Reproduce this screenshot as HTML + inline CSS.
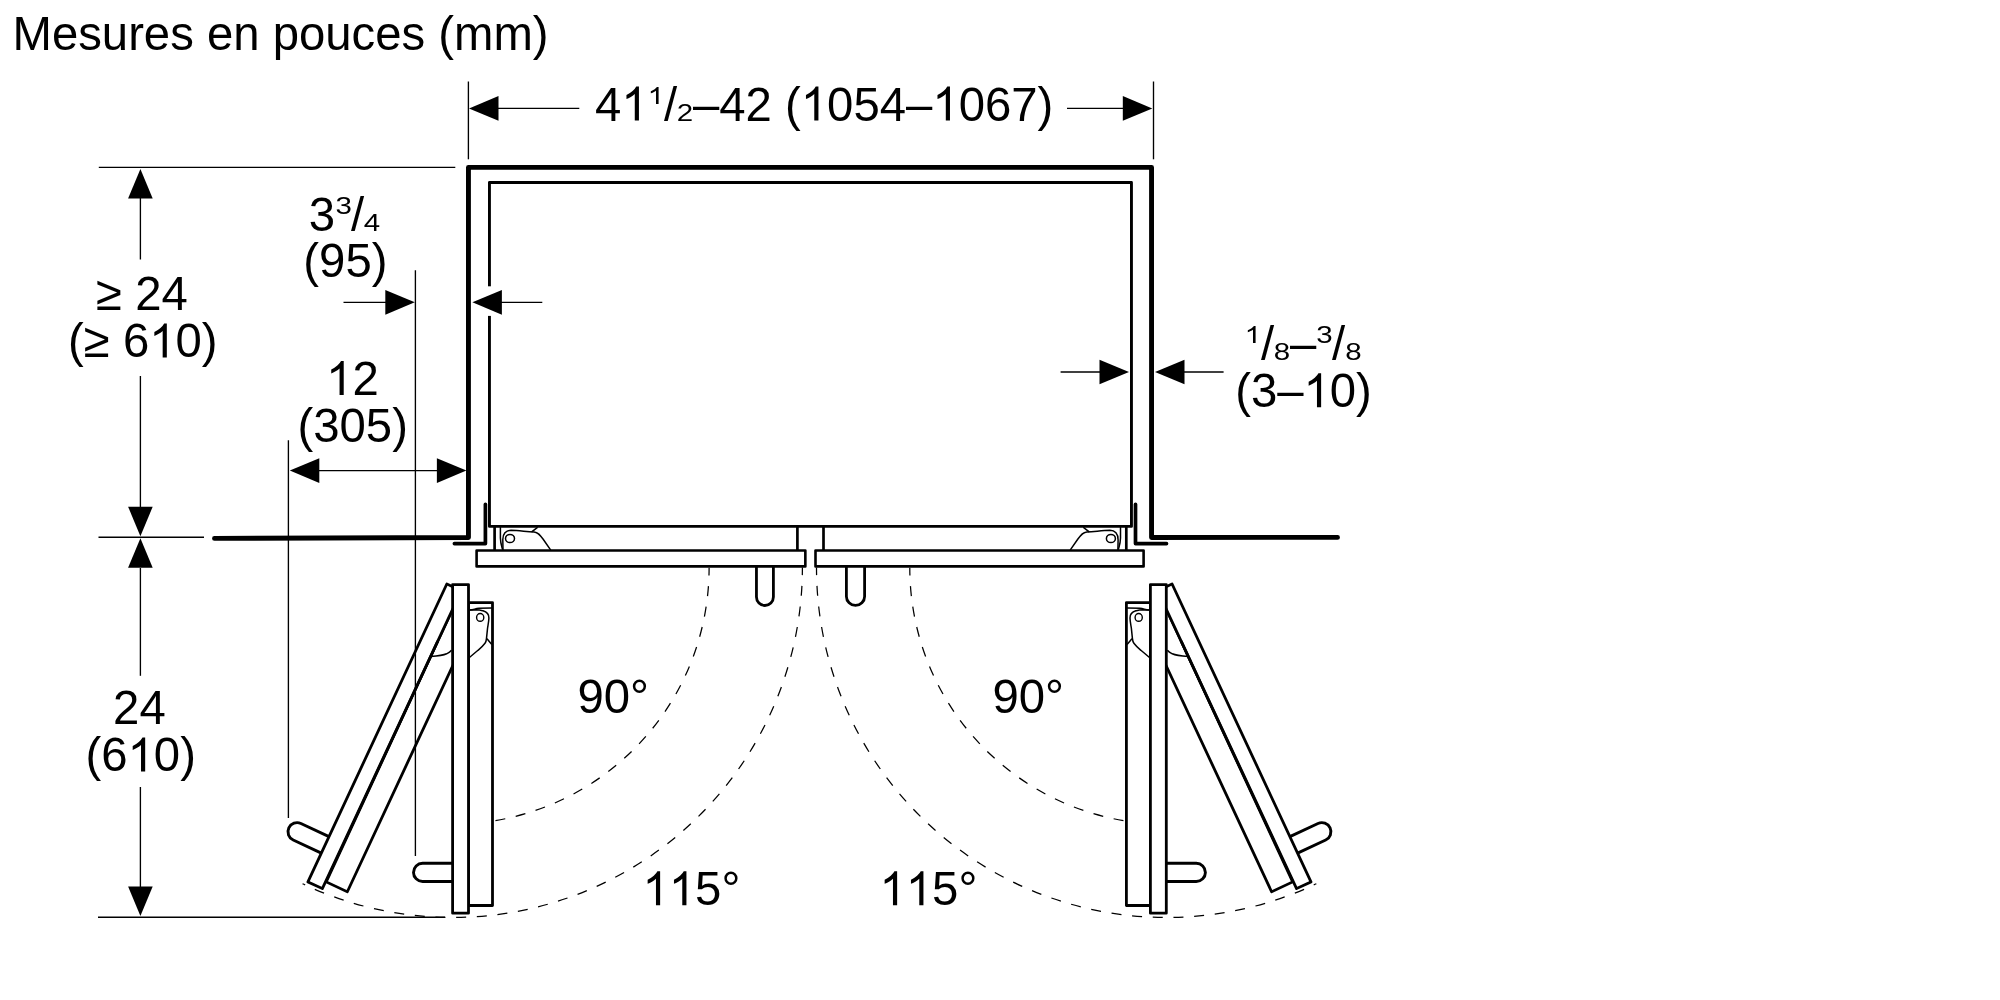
<!DOCTYPE html><html><head><meta charset="utf-8"><title>Mesures</title><style>html,body{margin:0;padding:0;background:#fff}svg{display:block}text{font-family:"Liberation Sans",sans-serif;fill:#000}</style></head><body>
<svg width="2000" height="1000" viewBox="0 0 2000 1000" style="will-change:transform">
<rect width="2000" height="1000" fill="#fff"/>
<g fill="none" stroke="#000" stroke-width="1.25" stroke-dasharray="10 10.7"><path d="M709.10,567.80 A256.4,256.4 0 0 1 452.70,824.20" stroke-dashoffset="2.3"/><path d="M802.40,567.50 A350.0,350.0 0 0 1 302.55,883.80" stroke-dashoffset="2.3"/></g>
<g transform="translate(1618.90,0) scale(-1,1)"><g fill="none" stroke="#000" stroke-width="1.25" stroke-dasharray="10 10.7"><path d="M709.10,567.80 A256.4,256.4 0 0 1 452.70,824.20" stroke-dashoffset="2.3"/><path d="M802.40,567.50 A350.0,350.0 0 0 1 302.55,883.80" stroke-dashoffset="2.3"/></g></g>
<path d="M756.45,566.4 V597.03 A8.475,8.475 0 0 0 773.4,597.03 V566.4" fill="#fff" stroke="#000" stroke-width="2.8"/>
<path d="M846.4,566.4 V596.40 A9.100,9.100 0 0 0 864.6,596.40 V566.4" fill="#fff" stroke="#000" stroke-width="2.8"/>
<g fill="#fff" stroke="#000" stroke-width="2.6" stroke-linejoin="round">
<rect x="476.6" y="550.5" width="328.75" height="15.9"/>
<rect x="815.5" y="550.5" width="328.1" height="15.9"/>
</g>
<g stroke="#000" stroke-width="2.7"><line x1="494.6" y1="526.4" x2="494.6" y2="550.5"/><line x1="797.4" y1="526.4" x2="797.4" y2="550.5"/></g><g fill="none" stroke="#000" stroke-width="1.5" stroke-linecap="round" stroke-linejoin="round"><path d="M503,549.8 L502.8,540 C502.6,534 506,530.2 511,530.2 C519,530.4 526,531.6 534,532 C538,532.4 540,535 543,539 L550.4,549.6"/><path d="M532,531.6 L537.2,527.6"/><path d="M500.4,527.5 L500.4,538 C500.5,543 501.6,546 502.4,549"/><ellipse cx="510" cy="538.5" rx="4.5" ry="4.1" stroke-width="1.5"/></g><path d="M485.4,504.3 V543.55 H454.4" fill="none" stroke="#000" stroke-width="3.7" stroke-linecap="round" stroke-linejoin="round"/>
<g transform="translate(1620.90,0) scale(-1,1)"><g stroke="#000" stroke-width="2.7"><line x1="494.6" y1="526.4" x2="494.6" y2="550.5"/><line x1="797.4" y1="526.4" x2="797.4" y2="550.5"/></g><g fill="none" stroke="#000" stroke-width="1.5" stroke-linecap="round" stroke-linejoin="round"><path d="M503,549.8 L502.8,540 C502.6,534 506,530.2 511,530.2 C519,530.4 526,531.6 534,532 C538,532.4 540,535 543,539 L550.4,549.6"/><path d="M532,531.6 L537.2,527.6"/><path d="M500.4,527.5 L500.4,538 C500.5,543 501.6,546 502.4,549"/><ellipse cx="510" cy="538.5" rx="4.5" ry="4.1" stroke-width="1.5"/></g><path d="M485.4,504.3 V543.55 H454.4" fill="none" stroke="#000" stroke-width="3.7" stroke-linecap="round" stroke-linejoin="round"/></g>
<g transform="translate(-0.3,0) rotate(25 451.1 571.9)"><g fill="#fff" stroke="#000" stroke-width="2.8" stroke-linejoin="round"><path d="M452.6,863.3 H421.60 A9.1,9.1 0 0 0 421.60,881.5 H452.6" stroke-width="2.9"/><rect x="468.5" y="602.6" width="24" height="302.9"/><rect x="452.6" y="584.55" width="15.9" height="328.65"/><line x1="468.5" y1="640" x2="469.2" y2="905" stroke-width="2.8"/></g></g><path d="M430.5,656.6 C438,656 444,655 446.6,653.8 C449,652.6 450.5,651.5 451.5,650.3" fill="none" stroke="#000" stroke-width="1.5"/><g fill="#fff" stroke="#000" stroke-width="2.8" stroke-linejoin="round"><path d="M452.6,863.3 H422.60 A9.1,9.1 0 0 0 422.60,881.5 H452.6" stroke-width="2.9"/><rect x="468.5" y="602.6" width="24" height="302.9"/><rect x="452.6" y="584.55" width="15.9" height="328.65"/></g><g fill="none" stroke="#000" stroke-width="1.5" stroke-linecap="round" stroke-linejoin="round"><path d="M469.7,610 C474,610 475,608.4 479,608.3 L491.4,608"/><path d="M469.7,610 L476,609.8 C480,609.8 481,610.2 483,610.8 C487,612 489,614.5 488.9,618 C488.8,622 487.8,626 487.5,628.6 L486.5,638.4 C486.3,640.5 486,642 485,643.3 C483,646 480.5,648.3 478,650.3 L469.7,657.3"/><path d="M487.2,639 L491.4,644"/><ellipse cx="480.2" cy="617.4" rx="3.6" ry="3.9" stroke-width="1.4"/></g>
<g transform="translate(1618.90,0) scale(-1,1)"><g transform="translate(-0.3,0) rotate(25 451.1 571.9)"><g fill="#fff" stroke="#000" stroke-width="2.8" stroke-linejoin="round"><path d="M452.6,863.3 H421.60 A9.1,9.1 0 0 0 421.60,881.5 H452.6" stroke-width="2.9"/><rect x="468.5" y="602.6" width="24" height="302.9"/><rect x="452.6" y="584.55" width="15.9" height="328.65"/><line x1="468.5" y1="640" x2="469.2" y2="905" stroke-width="2.8"/></g></g><path d="M430.5,656.6 C438,656 444,655 446.6,653.8 C449,652.6 450.5,651.5 451.5,650.3" fill="none" stroke="#000" stroke-width="1.5"/><g fill="#fff" stroke="#000" stroke-width="2.8" stroke-linejoin="round"><path d="M452.6,863.3 H422.60 A9.1,9.1 0 0 0 422.60,881.5 H452.6" stroke-width="2.9"/><rect x="468.5" y="602.6" width="24" height="302.9"/><rect x="452.6" y="584.55" width="15.9" height="328.65"/></g><g fill="none" stroke="#000" stroke-width="1.5" stroke-linecap="round" stroke-linejoin="round"><path d="M469.7,610 C474,610 475,608.4 479,608.3 L491.4,608"/><path d="M469.7,610 L476,609.8 C480,609.8 481,610.2 483,610.8 C487,612 489,614.5 488.9,618 C488.8,622 487.8,626 487.5,628.6 L486.5,638.4 C486.3,640.5 486,642 485,643.3 C483,646 480.5,648.3 478,650.3 L469.7,657.3"/><path d="M487.2,639 L491.4,644"/><ellipse cx="480.2" cy="617.4" rx="3.6" ry="3.9" stroke-width="1.4"/></g></g>
<path d="M214.5,538.4 L468.45,537.45 V167.4 H1151.55 V537.45 L1337.5,537.4" fill="none" stroke="#000" stroke-width="4.9" stroke-linecap="round" stroke-linejoin="round"/>
<rect x="489.45" y="182.55" width="642" height="343.85" fill="none" stroke="#000" stroke-width="2.9" stroke-linejoin="round"/>
<rect x="487" y="286.3" width="5" height="29.6" fill="#fff"/>
<g stroke="#000" stroke-width="1.35" fill="none">
<line x1="468.4" y1="81.5" x2="468.4" y2="159.3"/><line x1="1153.5" y1="81.5" x2="1153.5" y2="159.3"/>
<line x1="497" y1="108.4" x2="579.3" y2="108.4"/><line x1="1067" y1="108.4" x2="1124" y2="108.4"/>
<line x1="98.8" y1="167.3" x2="455.3" y2="167.3"/>
<line x1="98.5" y1="537.2" x2="204" y2="537.2"/>
<line x1="98" y1="917.2" x2="445" y2="917.2"/>
<line x1="140.4" y1="197" x2="140.4" y2="259.5"/><line x1="140.4" y1="376" x2="140.4" y2="508"/>
<line x1="140.4" y1="568" x2="140.4" y2="675.8"/><line x1="140.4" y1="787" x2="140.4" y2="888"/>
<line x1="415.4" y1="270.2" x2="415.4" y2="856"/>
<line x1="343.5" y1="302.35" x2="386" y2="302.35"/><line x1="501" y1="302.35" x2="542.3" y2="302.35"/>
<line x1="288.4" y1="440.3" x2="288.4" y2="818"/>
<line x1="318" y1="470.6" x2="438" y2="470.6"/>
<line x1="1060.6" y1="372" x2="1100" y2="372"/><line x1="1184" y1="372" x2="1223.6" y2="372"/>
</g>
<g fill="#000">
<polygon points="469.00,108.40 498.50,96.10 498.50,120.70"/>
<polygon points="1152.30,108.40 1122.80,96.10 1122.80,120.70"/>
<polygon points="140.40,169.00 128.10,198.50 152.70,198.50"/>
<polygon points="140.40,536.20 128.10,506.70 152.70,506.70"/>
<polygon points="140.40,538.20 128.10,567.70 152.70,567.70"/>
<polygon points="140.40,916.00 128.10,886.50 152.70,886.50"/>
<polygon points="414.80,302.35 385.30,290.05 385.30,314.65"/>
<polygon points="472.40,302.35 501.90,290.05 501.90,314.65"/>
<polygon points="289.80,470.60 319.30,458.30 319.30,482.90"/>
<polygon points="466.40,470.60 436.90,458.30 436.90,482.90"/>
<polygon points="1129.00,372.00 1099.50,359.70 1099.50,384.30"/>
<polygon points="1155.00,372.00 1184.50,359.70 1184.50,384.30"/>
</g>
<g fill="#000" style="font-kerning:none;white-space:pre">
<text transform="translate(12.50,50) scale(1,1.03)" font-size="47.3">Mesures en pouces (mm)</text>
<text transform="translate(595.00,120.6) scale(1,1.03)" font-size="47.3">4</text><path transform="translate(621.31,120.6) scale(0.02310,-0.02310)" d="M763 0H583V1147Q518 1085 412.5 1023Q307 961 223 930V1104Q374 1175 487 1276Q600 1377 647 1472H763Z"/>
<path transform="translate(647.60,104.0) scale(0.01440,-0.01155)" d="M763 0H583V1147Q518 1085 412.5 1023Q307 961 223 930V1104Q374 1175 487 1276Q600 1377 647 1472H763Z"/>
<text transform="translate(664.00,120.6) scale(1,1.03)" font-size="47.3">/</text>
<text transform="translate(676.80,120.8) scale(1,0.81)" font-size="29.5">2</text>
<text transform="translate(693.00,120.6) scale(1,1.03)" font-size="47.3">–42 (</text><path transform="translate(800.81,120.6) scale(0.02310,-0.02310)" d="M763 0H583V1147Q518 1085 412.5 1023Q307 961 223 930V1104Q374 1175 487 1276Q600 1377 647 1472H763Z"/><text transform="translate(827.12,120.6) scale(1,1.03)" font-size="47.3">054–</text><path transform="translate(932.34,120.6) scale(0.02310,-0.02310)" d="M763 0H583V1147Q518 1085 412.5 1023Q307 961 223 930V1104Q374 1175 487 1276Q600 1377 647 1472H763Z"/><text transform="translate(958.65,120.6) scale(1,1.03)" font-size="47.3">067)</text>
<text transform="translate(308.80,230.5) scale(1,1.03)" font-size="47.3">3</text>
<text transform="translate(335.40,213.8) scale(1,0.81)" font-size="29.5">3</text>
<text transform="translate(351.00,230.5) scale(1,1.03)" font-size="47.3">/</text>
<text transform="translate(363.80,230.5) scale(1,0.81)" font-size="29.5">4</text>
<text transform="translate(303.34,277.4) scale(1,1.03)" font-size="47.3">(95)</text>
<path transform="translate(326.09,394.9) scale(0.02310,-0.02310)" d="M763 0H583V1147Q518 1085 412.5 1023Q307 961 223 930V1104Q374 1175 487 1276Q600 1377 647 1472H763Z"/><text transform="translate(352.40,394.9) scale(1,1.03)" font-size="47.3">2</text>
<text transform="translate(297.49,441.9) scale(1,1.03)" font-size="47.3">(305)</text>
<text transform="translate(96.04,310.4) scale(1,1.03)" font-size="47.3">≥ 24</text>
<text transform="translate(68.04,357.4) scale(1,1.03)" font-size="47.3">(≥ 6</text><path transform="translate(149.20,357.4) scale(0.02310,-0.02310)" d="M763 0H583V1147Q518 1085 412.5 1023Q307 961 223 930V1104Q374 1175 487 1276Q600 1377 647 1472H763Z"/><text transform="translate(175.50,357.4) scale(1,1.03)" font-size="47.3">0)</text>
<text transform="translate(113.09,724.3) scale(1,1.03)" font-size="47.3">24</text>
<text transform="translate(85.49,771.4) scale(1,1.03)" font-size="47.3">(6</text><path transform="translate(127.55,771.4) scale(0.02310,-0.02310)" d="M763 0H583V1147Q518 1085 412.5 1023Q307 961 223 930V1104Q374 1175 487 1276Q600 1377 647 1472H763Z"/><text transform="translate(153.85,771.4) scale(1,1.03)" font-size="47.3">0)</text>
<text transform="translate(577.50,712.8) scale(1,1.03)" font-size="47.3">90°</text>
<path transform="translate(642.50,905.3) scale(0.02310,-0.02310)" d="M763 0H583V1147Q518 1085 412.5 1023Q307 961 223 930V1104Q374 1175 487 1276Q600 1377 647 1472H763Z"/><path transform="translate(668.81,905.3) scale(0.02310,-0.02310)" d="M763 0H583V1147Q518 1085 412.5 1023Q307 961 223 930V1104Q374 1175 487 1276Q600 1377 647 1472H763Z"/><text transform="translate(695.11,905.3) scale(1,1.03)" font-size="47.3">5°</text>
<text transform="translate(992.50,712.8) scale(1,1.03)" font-size="47.3">90°</text>
<path transform="translate(879.50,905.3) scale(0.02310,-0.02310)" d="M763 0H583V1147Q518 1085 412.5 1023Q307 961 223 930V1104Q374 1175 487 1276Q600 1377 647 1472H763Z"/><path transform="translate(905.81,905.3) scale(0.02310,-0.02310)" d="M763 0H583V1147Q518 1085 412.5 1023Q307 961 223 930V1104Q374 1175 487 1276Q600 1377 647 1472H763Z"/><text transform="translate(932.11,905.3) scale(1,1.03)" font-size="47.3">5°</text>
<path transform="translate(1244.60,342.9) scale(0.01440,-0.01155)" d="M763 0H583V1147Q518 1085 412.5 1023Q307 961 223 930V1104Q374 1175 487 1276Q600 1377 647 1472H763Z"/>
<text transform="translate(1261.10,360.2) scale(1,1.03)" font-size="47.3">/</text>
<text transform="translate(1273.80,360) scale(1,0.81)" font-size="29.5">8</text>
<text transform="translate(1290.00,360) scale(1,1.03)" font-size="47.3">–</text>
<text transform="translate(1316.20,343.1) scale(1,0.81)" font-size="29.5">3</text>
<text transform="translate(1332.10,360.2) scale(1,1.03)" font-size="47.3">/</text>
<text transform="translate(1345.30,360) scale(1,0.81)" font-size="29.5">8</text>
<text transform="translate(1235.14,407.2) scale(1,1.03)" font-size="47.3">(3–</text><path transform="translate(1303.50,407.2) scale(0.02310,-0.02310)" d="M763 0H583V1147Q518 1085 412.5 1023Q307 961 223 930V1104Q374 1175 487 1276Q600 1377 647 1472H763Z"/><text transform="translate(1329.81,407.2) scale(1,1.03)" font-size="47.3">0)</text>
</g>
</svg></body></html>
